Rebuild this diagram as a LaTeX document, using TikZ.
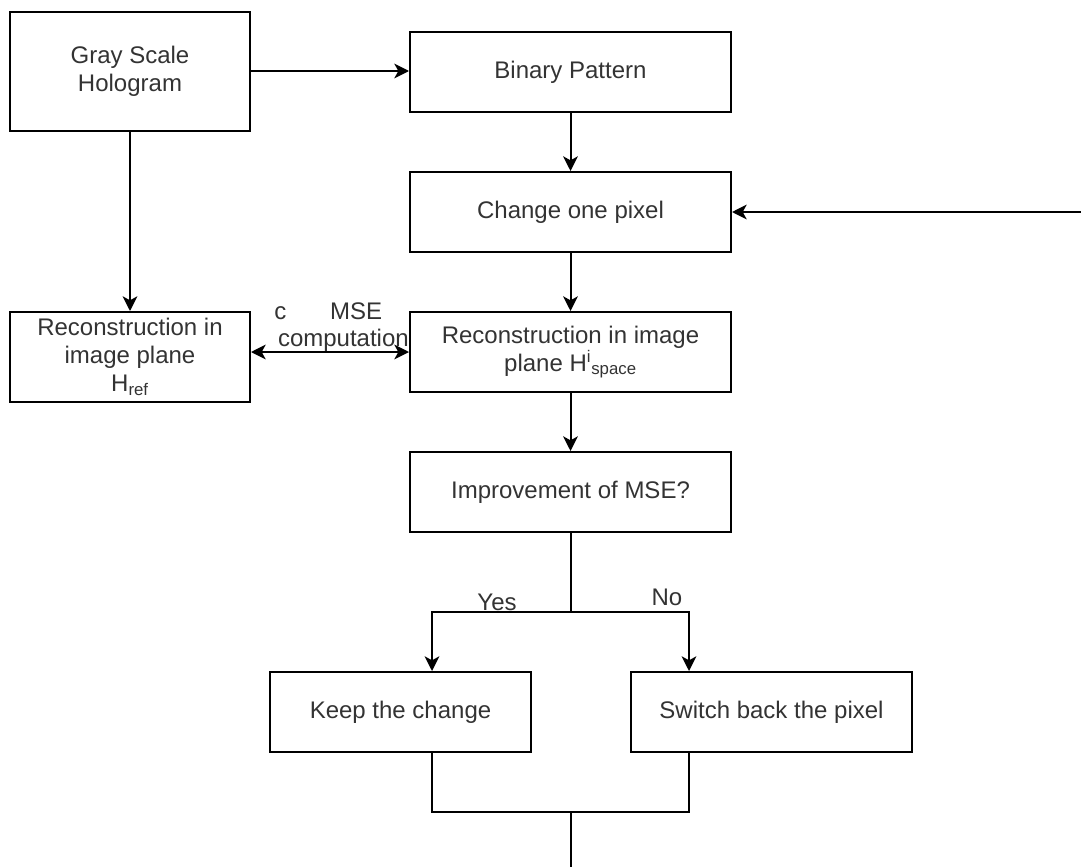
\documentclass[tikz,border=0pt]{standalone}
\usepackage{fontspec}
\setmainfont{Liberation Sans}
\usetikzlibrary{arrows.meta,calc}
\definecolor{txt}{HTML}{333333}
\begin{document}
\begin{tikzpicture}[x=0.75pt,y=-0.75pt,
  box/.style={draw=black,line width=1.5pt,rectangle,inner sep=0pt,align=center,text=txt,
    font=\fontsize{18}{20.7}\selectfont},
  link/.style={draw=black,line width=1.5pt},
  arr/.style={link,-{Stealth[length=11pt,width=11pt,inset=3pt]}},
  dblarr/.style={link,{Stealth[length=11pt,width=11pt,inset=3pt]}-{Stealth[length=11pt,width=11pt,inset=3pt]}},
  lbl/.style={text=txt,font=\fontsize{18}{20.7}\selectfont,inner sep=0pt}
]
\useasboundingbox (0,0) rectangle (1081,867);

\node[box,minimum width=240*0.75pt,minimum height=119*0.75pt] (gray) at (130,71.5) {Gray Scale\\Hologram};
\node[box,minimum width=321*0.75pt,minimum height=80*0.75pt] (binary) at (570.5,72) {Binary Pattern};
\node[box,minimum width=321*0.75pt,minimum height=80*0.75pt] (change) at (570.5,212) {Change one pixel};
\node[box,minimum width=321*0.75pt,minimum height=80*0.75pt] (reconR) at (570.5,352) {Reconstruction in image\\plane H\textsuperscript{i}\textsubscript{space}};
\node[box,minimum width=321*0.75pt,minimum height=80*0.75pt] (improve) at (570.5,492) {Improvement of MSE?};
\node[box,minimum width=240*0.75pt,minimum height=90*0.75pt] (reconL) at (130,357) {Reconstruction in\\image plane\\H\textsubscript{ref}};
\node[box,minimum width=261*0.75pt,minimum height=80*0.75pt] (keep) at (400.5,712) {Keep the change};
\node[box,minimum width=281*0.75pt,minimum height=80*0.75pt] (switch) at (771.5,712) {Switch back the pixel};

\coordinate (rin) at (1081,212);
\coordinate (split) at (570.5,612);
\coordinate (yesC) at (432,612);
\coordinate (noC) at (689,612);
\coordinate (join) at (570.5,812);
\coordinate (bottomEnd) at (570.5,867);

\draw[arr] (gray.east |- 0,71) -- (binary.west |- 0,71);
\draw[arr] (gray.south) -- (reconL.north);
\draw[arr] (binary.south) -- (change.north);
\draw[arr] (change.south) -- (reconR.north);
\draw[arr] (reconR.south) -- (improve.north);
\draw[arr] (rin) -- (change.east);
\draw[dblarr] (reconL.east |- reconR.west) -- (reconR.west);
\node[lbl,anchor=west,align=left] (mse) at (274,327) {c\hspace{1.83em}MSE\\\hspace*{7\pgflinewidth}computation};

\draw[link] (improve.south) -- (split);
\draw[arr] (split) -- (yesC) -- (yesC |- keep.north);
\draw[arr] (split) -- (noC) -- (noC |- switch.north);
\node[lbl] (yes) at (497,602) {Yes};
\node[lbl] (no) at (667,597) {No};

\draw[link] (keep.south -| yesC) -- (yesC |- join) -- (noC |- join) -- (switch.south -| noC);
\draw[link] (join) -- (bottomEnd);
\end{tikzpicture}
\end{document}
